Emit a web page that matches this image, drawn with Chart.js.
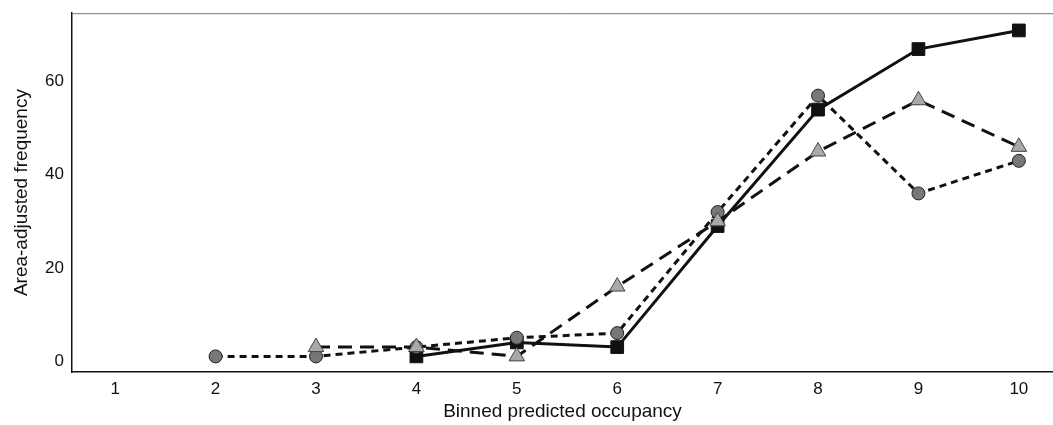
<!DOCTYPE html>
<html>
<head>
<meta charset="utf-8">
<script src="https://cdn.jsdelivr.net/npm/chart.js@4"></script>
<style>
  html, body { margin: 0; padding: 0; background: #fff; overflow: hidden; }
  canvas { display: block; }
</style>
</head>
<body>
<canvas id="chart" width="1053" height="425"></canvas>
<script>
const bins = [1, 2, 3, 4, 5, 6, 7, 8, 9, 10];
const yTicks = [0, 20, 40, 60];

// values per bin, null where a series has no point
const squareVals   = [null, null, null, 1, 4, 3, 29, 54, 67, 71];
const circleVals   = [null, 1, 1, 3, 5, 6, 32, 57, 36, 43];
const triangleVals = [null, null, 3, 3, 1, 16, 30, 45, 56, 46];

const toPoints = vals => bins.map((b, i) => ({ x: b, y: vals[i] })).filter(p => p.y !== null);

const topBorder = {
    id: 'topBorder',
    afterDraw(chart) {
        const { ctx, chartArea } = chart;
        ctx.save();
        ctx.strokeStyle = '#777';
        ctx.lineWidth = 1;
        ctx.beginPath();
        ctx.moveTo(chartArea.left, chartArea.top + 0.5);
        ctx.lineTo(chartArea.right, chartArea.top + 0.5);
        ctx.stroke();
        ctx.restore();
    }
};

const ctx = document.getElementById('chart').getContext('2d');
new Chart(ctx, {
    type: 'line',
    data: {
        datasets: [
            {
                data: toPoints(triangleVals),
                borderColor: '#111',
                borderWidth: 3,
                borderDash: [14, 8],
                pointStyle: 'triangle',
                pointRadius: 9,
                pointBackgroundColor: '#a9a9a9',
                pointBorderColor: '#444',
                pointBorderWidth: 1,
                tension: 0
            },
            {
                data: toPoints(circleVals),
                borderColor: '#111',
                borderWidth: 3,
                borderDash: [7, 5],
                pointStyle: 'circle',
                pointRadius: 6.5,
                pointBackgroundColor: '#777',
                pointBorderColor: '#222',
                pointBorderWidth: 1,
                tension: 0
            },
            {
                data: toPoints(squareVals),
                borderColor: '#111',
                borderWidth: 3,
                pointStyle: 'rect',
                pointRadius: 9,
                pointBackgroundColor: '#111',
                pointBorderColor: '#111',
                pointBorderWidth: 1,
                tension: 0
            }
        ]
    },
    options: {
        responsive: false,
        animation: false,
        layout: { autoPadding: false, padding: { top: 12, right: 0, left: 0, bottom: 0 } },
        plugins: { legend: { display: false }, tooltip: { enabled: false } },
        scales: {
            x: {
                type: 'linear',
                min: 0.57,
                max: 10.34,
                afterBuildTicks: s => { s.ticks = bins.map(v => ({ value: v })); },
                afterFit: s => { s.height = 53; },
                grid: { display: false, drawTicks: true, tickLength: 5, tickColor: '#111' },
                border: { display: true, color: '#111', width: 1.5 },
                ticks: { color: '#111', font: { family: 'Liberation Sans', size: 17 }, padding: 2 },
                title: {
                    display: true,
                    text: 'Binned predicted occupancy',
                    color: '#111',
                    font: { family: 'Liberation Sans', size: 19 },
                    padding: { top: 2, bottom: 2 }
                }
            },
            y: {
                min: -2.35,
                max: 74.7,
                afterBuildTicks: s => { s.ticks = yTicks.map(v => ({ value: v })); },
                afterFit: s => { s.width = 72; },
                grid: { display: false, drawTicks: true, tickLength: 5, tickColor: '#111' },
                border: { display: true, color: '#111', width: 1.5 },
                ticks: { color: '#111', font: { family: 'Liberation Sans', size: 17 }, padding: 3 },
                title: {
                    display: true,
                    text: 'Area-adjusted frequency',
                    color: '#111',
                    font: { family: 'Liberation Sans', size: 19 },
                    padding: { top: 10, bottom: 0 }
                }
            }
        }
    },
    plugins: [topBorder]
});
</script>
</body>
</html>
